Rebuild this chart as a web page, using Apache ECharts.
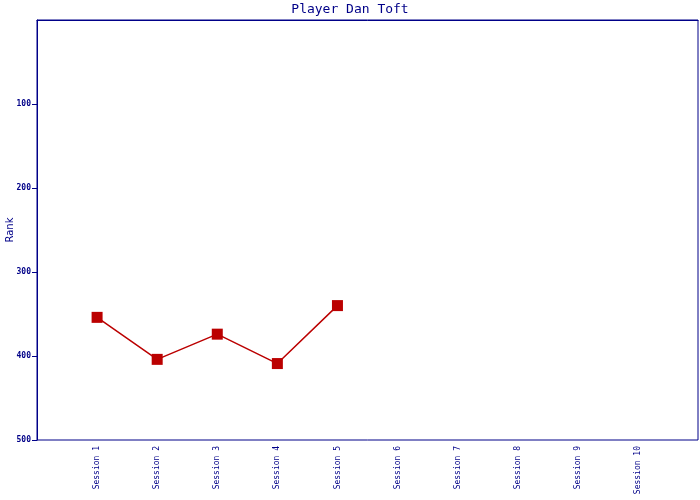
<!DOCTYPE html>
<html><head><meta charset="utf-8">
<script src="https://cdn.jsdelivr.net/npm/echarts@6/dist/echarts.min.js"></script>
<style>html,body{margin:0;padding:0;background:#fff}#c{width:700px;height:500px}</style>
</head><body><div id="c"></div>
<script>
const categories = ['Session 1','Session 2','Session 3','Session 4','Session 5','Session 6','Session 7','Session 8','Session 9','Session 10'];
const ranks = [354, 404, 374, 409, 340];
const yTicks = [100, 200, 300, 400, 500];
const navy = '#000088';
const red = '#bb0000';
const chart = echarts.init(document.getElementById('c'));
chart.setOption({
  animation: false,
  backgroundColor: '#fff',
  title: { text: 'Player Dan Toft', left: 'center', top: -2,
    textStyle: { color: navy, fontFamily: 'DejaVu Sans Mono', fontSize: 13, fontWeight: 'normal' } },
  grid: { left: 37, right: 2, top: 20, bottom: 60, containLabel: false, outerBoundsMode: 'none',
    show: true, borderColor: navy, borderWidth: 1, backgroundColor: 'transparent' },
  xAxis: {
    type: 'value', min: 0, max: categories.length + 1, interval: 1,
    axisLine: { show: true, lineStyle: { color: navy } },
    axisTick: { show: false },
    splitLine: { show: false },
    axisLabel: { rotate: 90, color: navy, fontFamily: 'DejaVu Sans Mono', fontSize: 8, margin: 6,
      formatter: v => (v >= 1 && v <= categories.length) ? categories[v - 1] : '' }
  },
  yAxis: {
    type: 'value', inverse: true, min: 0, max: 500, interval: 100,
    name: 'Rank', nameLocation: 'middle', nameGap: 22, nameMoveOverlap: false,
    nameTextStyle: { color: navy, fontFamily: 'DejaVu Sans', fontSize: 10 },
    axisLine: { show: true, lineStyle: { color: navy } },
    axisTick: { show: true, length: 5, lineStyle: { color: navy }, customValues: yTicks },
    splitLine: { show: false },
    axisLabel: { color: navy, fontFamily: 'DejaVu Sans Mono', fontSize: 8, fontWeight: 'bold', margin: 6,
      customValues: yTicks, formatter: v => String(v) }
  },
  series: [{
    type: 'line',
    data: ranks.map((r, i) => [i + 1, r]),
    symbol: 'rect', symbolSize: 11,
    itemStyle: { color: red },
    lineStyle: { color: red, width: 1.5 }
  }]
});
</script></body></html>
